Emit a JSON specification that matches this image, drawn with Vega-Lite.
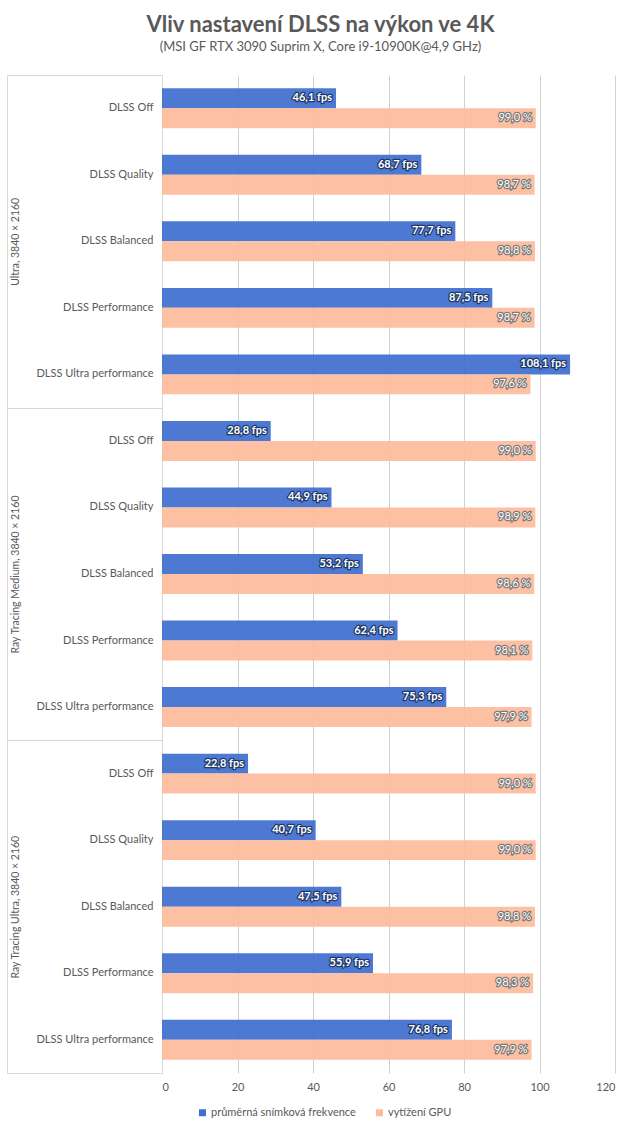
{
  "$schema": "https://vega.github.io/schema/vega-lite/v6.json",
  "width": 453,
  "height": 998,
  "autosize": {"type": "none"},
  "padding": {"left": 162, "top": 75, "right": 25, "bottom": 62},
  "background": "white",
  "config": {
    "font": "Lato",
    "view": {"stroke": null},
    "axis": {"labelColor": "#595959", "labelFont": "Lato"},
    "legend": {"labelFont": "Lato"}
  },
  "title": {
    "text": "Vliv nastavení DLSS na výkon ve 4K",
    "subtitle": "(MSI GF RTX 3090  Suprim X, Core i9-10900K@4,9  GHz)",
    "anchor": "middle",
    "frame": "group",
    "dx": -68,
    "offset": 20,
    "fontSize": 22,
    "fontWeight": "bold",
    "color": "#595959",
    "subtitleColor": "#595959",
    "subtitleFontSize": 13,
    "subtitlePadding": 4
  },
  "data": {
    "values": [
      {"group": "Ultra, 3840 × 2160", "setting": "DLSS Off", "series": "průměrná snímková frekvence", "value": 46.1},
      {"group": "Ultra, 3840 × 2160", "setting": "DLSS Off", "series": "vytížení GPU", "value": 99.0},
      {"group": "Ultra, 3840 × 2160", "setting": "DLSS Quality", "series": "průměrná snímková frekvence", "value": 68.7},
      {"group": "Ultra, 3840 × 2160", "setting": "DLSS Quality", "series": "vytížení GPU", "value": 98.7},
      {"group": "Ultra, 3840 × 2160", "setting": "DLSS Balanced", "series": "průměrná snímková frekvence", "value": 77.7},
      {"group": "Ultra, 3840 × 2160", "setting": "DLSS Balanced", "series": "vytížení GPU", "value": 98.8},
      {"group": "Ultra, 3840 × 2160", "setting": "DLSS Performance", "series": "průměrná snímková frekvence", "value": 87.5},
      {"group": "Ultra, 3840 × 2160", "setting": "DLSS Performance", "series": "vytížení GPU", "value": 98.7},
      {"group": "Ultra, 3840 × 2160", "setting": "DLSS Ultra performance", "series": "průměrná snímková frekvence", "value": 108.1},
      {"group": "Ultra, 3840 × 2160", "setting": "DLSS Ultra performance", "series": "vytížení GPU", "value": 97.6},
      {"group": "Ray Tracing Medium, 3840 × 2160", "setting": "DLSS Off", "series": "průměrná snímková frekvence", "value": 28.8},
      {"group": "Ray Tracing Medium, 3840 × 2160", "setting": "DLSS Off", "series": "vytížení GPU", "value": 99.0},
      {"group": "Ray Tracing Medium, 3840 × 2160", "setting": "DLSS Quality", "series": "průměrná snímková frekvence", "value": 44.9},
      {"group": "Ray Tracing Medium, 3840 × 2160", "setting": "DLSS Quality", "series": "vytížení GPU", "value": 98.9},
      {"group": "Ray Tracing Medium, 3840 × 2160", "setting": "DLSS Balanced", "series": "průměrná snímková frekvence", "value": 53.2},
      {"group": "Ray Tracing Medium, 3840 × 2160", "setting": "DLSS Balanced", "series": "vytížení GPU", "value": 98.6},
      {"group": "Ray Tracing Medium, 3840 × 2160", "setting": "DLSS Performance", "series": "průměrná snímková frekvence", "value": 62.4},
      {"group": "Ray Tracing Medium, 3840 × 2160", "setting": "DLSS Performance", "series": "vytížení GPU", "value": 98.1},
      {"group": "Ray Tracing Medium, 3840 × 2160", "setting": "DLSS Ultra performance", "series": "průměrná snímková frekvence", "value": 75.3},
      {"group": "Ray Tracing Medium, 3840 × 2160", "setting": "DLSS Ultra performance", "series": "vytížení GPU", "value": 97.9},
      {"group": "Ray Tracing Ultra, 3840 × 2160", "setting": "DLSS Off", "series": "průměrná snímková frekvence", "value": 22.8},
      {"group": "Ray Tracing Ultra, 3840 × 2160", "setting": "DLSS Off", "series": "vytížení GPU", "value": 99.0},
      {"group": "Ray Tracing Ultra, 3840 × 2160", "setting": "DLSS Quality", "series": "průměrná snímková frekvence", "value": 40.7},
      {"group": "Ray Tracing Ultra, 3840 × 2160", "setting": "DLSS Quality", "series": "vytížení GPU", "value": 99.0},
      {"group": "Ray Tracing Ultra, 3840 × 2160", "setting": "DLSS Balanced", "series": "průměrná snímková frekvence", "value": 47.5},
      {"group": "Ray Tracing Ultra, 3840 × 2160", "setting": "DLSS Balanced", "series": "vytížení GPU", "value": 98.8},
      {"group": "Ray Tracing Ultra, 3840 × 2160", "setting": "DLSS Performance", "series": "průměrná snímková frekvence", "value": 55.9},
      {"group": "Ray Tracing Ultra, 3840 × 2160", "setting": "DLSS Performance", "series": "vytížení GPU", "value": 98.3},
      {"group": "Ray Tracing Ultra, 3840 × 2160", "setting": "DLSS Ultra performance", "series": "průměrná snímková frekvence", "value": 76.8},
      {"group": "Ray Tracing Ultra, 3840 × 2160", "setting": "DLSS Ultra performance", "series": "vytížení GPU", "value": 97.9}
    ]
  },
  "transform": [{"calculate": "datum.group + '|' + datum.setting", "as": "row"}],
  "layer": [
    {
      "encoding": {
        "y": {
          "field": "row",
          "type": "nominal",
          "sort": null,
          "scale": {"paddingInner": 0.4, "paddingOuter": 0.2},
          "axis": {
            "orient": "left",
            "title": null,
            "labelExpr": "split(datum.label, '|')[1]",
            "ticks": false,
            "domainColor": "#d9d9d9",
            "labelPadding": 9,
            "labelFontSize": 11
          }
        },
        "yOffset": {"field": "series", "type": "nominal", "sort": null},
        "x": {
          "field": "value",
          "type": "quantitative",
          "scale": {"domain": [0, 120]},
          "axis": {
            "title": null,
            "values": [0, 20, 40, 60, 80, 100, 120],
            "grid": true,
            "gridColor": "#d0d0d0",
            "ticks": false,
            "domain": false,
            "labelPadding": 8,
            "labelFontSize": 11,
            "zindex": 0
          }
        }
      },
      "layer": [
        {
          "mark": {"type": "bar", "opacity": 0.93},
          "encoding": {
            "color": {
              "field": "series",
              "type": "nominal",
              "sort": null,
              "scale": {"range": ["#3f6fd0", "#FDBB9C"]},
              "legend": {
                "orient": "none",
                "legendX": 35,
                "legendY": 1032,
                "direction": "horizontal",
                "title": null,
                "symbolType": "square",
                "symbolSize": 49,
                "symbolStrokeWidth": 0,
                "symbolOpacity": 1,
                "labelFontSize": 11,
                "labelColor": "#595959",
                "labelOffset": 3,
                "columnPadding": 18
              }
            }
          }
        },
        {
          "mark": {
            "type": "text",
            "align": "right",
            "baseline": "middle",
            "dx": -4,
            "fontSize": 11,
            "fontWeight": {"expr": "datum.series == 'vytížení GPU' ? 'normal' : 'bold'"},
            "text": {"expr": "replace(format(datum.value, '.1f'), '.', ',') + (datum.series == 'vytížení GPU' ? ' %' : ' fps')"},
            "stroke": {"expr": "datum.series == 'vytížení GPU' ? '#7a7a7a' : '#1f3864'"},
            "fill": {"expr": "datum.series == 'vytížení GPU' ? '#7a7a7a' : '#1f3864'"},
            "strokeWidth": 2.5,
            "strokeJoin": "round"
          }
        },
        {
          "mark": {
            "type": "text",
            "align": "right",
            "baseline": "middle",
            "dx": -4,
            "fontSize": 11,
            "fontWeight": {"expr": "datum.series == 'vytížení GPU' ? 'normal' : 'bold'"},
            "text": {"expr": "replace(format(datum.value, '.1f'), '.', ',') + (datum.series == 'vytížení GPU' ? ' %' : ' fps')"},
            "fill": "white"
          }
        }
      ]
    },
    {
      "mark": {"type": "rule", "opacity": 0},
      "encoding": {
        "y": {
          "field": "group",
          "type": "nominal",
          "sort": null,
          "scale": {"padding": 0},
          "axis": {
            "orient": "left",
            "title": null,
            "offset": 155,
            "tickSize": -155,
            "tickBand": "extent",
            "tickColor": "#d9d9d9",
            "domainColor": "#d9d9d9",
            "labelAngle": -90,
            "labelPadding": 142,
            "labelAlign": "center",
            "labelBaseline": "bottom",
            "labelFontSize": 10.5
          }
        }
      }
    }
  ],
  "resolve": {"scale": {"y": "independent"}, "axis": {"y": "independent"}}
}
